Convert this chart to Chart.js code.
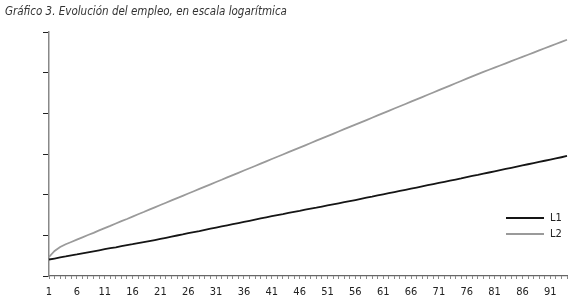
<!DOCTYPE html>
<html>
<head>
<meta charset="utf-8">
<script src="https://cdn.jsdelivr.net/npm/chart.js@4"></script>
<style>
html,body{margin:0;padding:0;background:#fff;}
#wrap{width:580px;height:302px;position:relative;}
</style>
</head>
<body>
<div id="wrap"><canvas id="c" width="580" height="302"></canvas></div>
<script>
// Periods (x categories)
const periods = [];
for (let i = 1; i <= 94; i++) periods.push(String(i));

// Log of employment
const L1 = [
0.406,0.43,0.456,0.48,0.508,0.53,0.556,0.583,0.606,0.632,
0.66,0.683,0.706,0.735,0.758,0.782,0.81,0.834,0.858,0.885,
0.912,0.94,0.97,0.996,1.022,1.052,1.08,1.106,1.136,1.163,
1.19,1.22,1.245,1.273,1.302,1.33,1.358,1.388,1.419,1.443,
1.47,1.498,1.522,1.55,1.578,1.602,1.63,1.656,1.68,1.708,
1.737,1.762,1.788,1.815,1.84,1.868,1.897,1.925,1.95,1.98,
2.01,2.036,2.065,2.092,2.12,2.15,2.176,2.203,2.233,2.26,
2.29,2.316,2.345,2.372,2.4,2.432,2.46,2.486,2.516,2.545,
2.574,2.602,2.632,2.66,2.69,2.718,2.748,2.776,2.806,2.834,
2.864,2.892,2.92,2.951
];
const L2 = [
0.467,0.615,0.713,0.78,0.836,0.895,0.95,1.008,1.062,1.12,
1.178,1.232,1.29,1.348,1.402,1.46,1.518,1.573,1.632,1.689,
1.745,1.802,1.86,1.915,1.972,2.028,2.085,2.142,2.198,2.254,
2.312,2.366,2.424,2.48,2.537,2.594,2.65,2.705,2.763,2.819,
2.876,2.932,2.988,3.045,3.101,3.158,3.214,3.27,3.328,3.384,
3.44,3.496,3.553,3.61,3.665,3.722,3.779,3.835,3.892,3.948,
4.004,4.06,4.118,4.174,4.23,4.286,4.343,4.4,4.456,4.512,
4.57,4.626,4.682,4.739,4.795,4.852,4.91,4.966,5.018,5.072,
5.124,5.177,5.23,5.282,5.336,5.388,5.44,5.494,5.546,5.6,
5.652,5.705,5.758,5.81
];
const seriesNames = ['L1', 'L2'];
const titleText = 'Gráfico 3. Evolución del empleo, en escala logarítmica';

const FONT = "'DejaVu Sans Condensed', 'Liberation Sans Narrow', sans-serif";

const legendPlugin = {
  id: 'insideLegend',
  afterDraw(chart) {
    const ctx = chart.ctx;
    const x0 = 506, x1 = 544, ys = [218, 234];
    ctx.save();
    chart.data.datasets.forEach((ds, i) => {
      ctx.strokeStyle = ds.borderColor;
      ctx.lineWidth = ds.borderWidth;
      ctx.beginPath();
      ctx.moveTo(x0, ys[i]);
      ctx.lineTo(x1, ys[i]);
      ctx.stroke();
      ctx.fillStyle = '#222';
      ctx.font = "11px " + FONT;
      ctx.textBaseline = 'middle';
      ctx.textAlign = 'left';
      ctx.fillText(ds.label, x1 + 6, ys[i] + 0.5);
    });
    ctx.restore();
  }
};

new Chart(document.getElementById('c'), {
  type: 'line',
  data: {
    labels: periods,
    datasets: [
      { label: seriesNames[0], data: L1, borderColor: '#151515', borderWidth: 1.8, pointRadius: 0, tension: 0, fill: false },
      { label: seriesNames[1], data: L2, borderColor: '#9a9a9a', borderWidth: 1.8, pointRadius: 0, tension: 0, fill: false }
    ]
  },
  options: {
    responsive: false,
    animation: false,
    events: [],
    layout: { padding: { left: 5, right: 13, top: 0, bottom: 0 } },
    plugins: {
      legend: { display: false },
      tooltip: { enabled: false },
      title: {
        display: true,
        text: titleText,
        align: 'start',
        color: '#333',
        font: { family: FONT, size: 11.5, style: 'italic', weight: 'normal' },
        padding: { top: 5, bottom: 13.2 }
      }
    },
    scales: {
      x: {
        type: 'category',
        border: { color: '#666', width: 1.2 },
        grid: { drawOnChartArea: false, drawTicks: true, tickLength: 3, color: '#888', lineWidth: 1 },
        ticks: {
          autoSkip: false,
          maxRotation: 0,
          padding: 7,
          color: '#222',
          font: { family: FONT, size: 11 },
          callback: function(v, i) { return (i % 5 === 0) ? this.getLabelForValue(v) : ''; }
        },
        afterFit(scale) { scale.height = 26; }
      },
      y: {
        type: 'linear',
        min: 0,
        max: 6,
        border: { color: '#888', width: 1.5 },
        grid: { drawOnChartArea: false, drawTicks: true, tickLength: 6, color: '#222', lineWidth: 1 },
        ticks: { display: false, stepSize: 1 },
        afterFit(scale) { scale.width = 44; }
      }
    }
  },
  plugins: [legendPlugin]
});
</script>
</body>
</html>
